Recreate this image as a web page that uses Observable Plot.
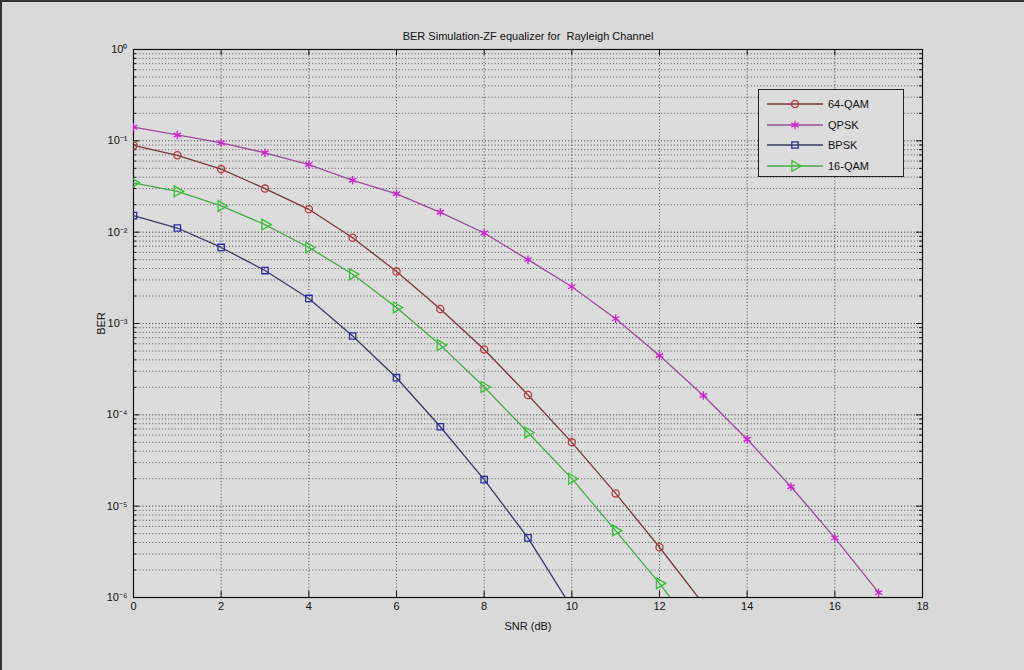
<!DOCTYPE html>
<html>
<head>
<meta charset="utf-8">
<script src="https://cdn.jsdelivr.net/npm/d3@7"></script>
<script src="https://cdn.jsdelivr.net/npm/@observablehq/plot@0.6"></script>
<style>
  html, body { margin: 0; padding: 0; background: #d9d9d9; }
  #wrap { position: relative; width: 1024px; height: 670px; overflow: hidden;
          border-top: 2px solid #333; border-left: 2px solid #333; box-sizing: border-box; }
  #chart { position: absolute; left: -2px; top: -2px; }
  #legend { position: absolute; left: 756px; top: 87px; width: 146px; height: 88px;
            border: 1.2px solid #222; background: #dcdcdc; box-sizing: border-box;
            font-family: "Liberation Sans", Arial, sans-serif; font-size: 11px; color: #111;
            padding-top: 4px; }
  #legend .row { display: flex; align-items: center; height: 20.5px; }
  #legend svg { margin-left: 8px; margin-right: 5px; }
</style>
</head>
<body>
<div id="wrap"><div id="chart"></div><div id="legend"></div></div>
<script>
// ---- data ----
const seriesNames = ["64-QAM", "QPSK", "BPSK", "16-QAM"];
const snr64qam = [0, 1, 2, 3, 4, 5, 6, 7, 8, 9, 10, 11, 12, 13];
const ber64qam = [0.089, 0.0695, 0.049, 0.030, 0.0178, 0.0087, 0.0037, 0.00144, 5.2e-4, 1.65e-4, 5.0e-5, 1.38e-5, 3.55e-6, 8.5e-7];
const snrQpsk = [0, 1, 2, 3, 4, 5, 6, 7, 8, 9, 10, 11, 12, 13, 14, 15, 16, 17];
const berQpsk = [0.141, 0.116, 0.095, 0.074, 0.055, 0.037, 0.0263, 0.0165, 0.0098, 0.0050, 0.00253, 0.00113, 4.46e-4, 1.63e-4, 5.4e-5, 1.63e-5, 4.5e-6, 1.13e-6];
const snrBpsk = [0, 1, 2, 3, 4, 5, 6, 7, 8, 9, 10];
const berBpsk = [0.0152, 0.0111, 0.0068, 0.0038, 0.00188, 7.3e-4, 2.55e-4, 7.4e-5, 1.95e-5, 4.5e-6, 7.7e-7];
const snr16qam = [0, 1, 2, 3, 4, 5, 6, 7, 8, 9, 10, 11, 12, 13];
const ber16qam = [0.0347, 0.028, 0.0194, 0.0121, 0.0068, 0.00346, 0.0015, 5.8e-4, 2.02e-4, 6.4e-5, 2.0e-5, 5.4e-6, 1.43e-6, 3.3e-7];

const xTicks = [0, 2, 4, 6, 8, 10, 12, 14, 16, 18];
const yMajorTicks = [1e-6, 1e-5, 1e-4, 1e-3, 1e-2, 1e-1, 1];
const yMinorTicks = [];
for (let e = -6; e < 0; e++) for (let m = 2; m <= 9; m++) yMinorTicks.push(m * Math.pow(10, e));

const titleText = "BER Simulation-ZF equalizer for  Rayleigh Channel";
const xLabel = "SNR (dB)";
const yLabel = "BER";

// ---- styles ----
const styles = {
  "64-QAM": {line: "#7a3838", marker: "#b83a3a", symbol: "circle", r: 3.6, rotate: 0},
  "QPSK":   {line: "#9c4c9c", marker: "#d21fd2", symbol: "asterisk", r: 4, rotate: 0},
  "BPSK":   {line: "#3a3a64", marker: "#2a2aa4", symbol: "square", r: 3.6, rotate: 0},
  "16-QAM": {line: "#44ac44", marker: "#33c033", symbol: "triangle", r: 4, rotate: 90}
};

const rows = [];
[[snr64qam, ber64qam], [snrQpsk, berQpsk], [snrBpsk, berBpsk], [snr16qam, ber16qam]].forEach(([xs, ys], i) => {
  xs.forEach((x, j) => rows.push({series: seriesNames[i], snr: x, ber: ys[j]}));
});

const W = 1024, H = 670, mL = 133, mR = 102, mT = 49, mB = 73;
const fw = W - mL - mR, fh = H - mT - mB;
const sup = {"0":"⁰","1":"¹","2":"²","3":"³","4":"⁴","5":"⁵","6":"⁶","7":"⁷","8":"⁸","9":"⁹","-":"⁻"};
const fmtPow = d => "10" + String(Math.round(Math.log10(d))).split("").map(c => sup[c]).join("");

const gridStyle = {stroke: "#222", strokeWidth: 1, strokeDasharray: "1,2.2", strokeOpacity: 0.8};

const marks = [
  Plot.frame({fill: "#dcdcdc"}),
  Plot.ruleY(yMinorTicks, {y: d => d, ...gridStyle, strokeOpacity: 0.7}),
  Plot.ruleY(yMajorTicks, {y: d => d, ...gridStyle, strokeOpacity: 0.95}),
  Plot.ruleX(xTicks, {x: d => d, ...gridStyle}),
  // inward ticks
  Plot.tickX(xTicks, {x: d => d, insetTop: fh - 6, stroke: "#111"}),
  Plot.tickX(xTicks, {x: d => d, insetBottom: fh - 6, stroke: "#111"}),
  Plot.tickY(yMajorTicks, {y: d => d, insetRight: fw - 6, stroke: "#111"}),
  Plot.tickY(yMajorTicks, {y: d => d, insetLeft: fw - 6, stroke: "#111"}),
  Plot.tickY(yMinorTicks, {y: d => d, insetRight: fw - 3, stroke: "#111"}),
  Plot.tickY(yMinorTicks, {y: d => d, insetLeft: fw - 3, stroke: "#111"}),
  Plot.frame({stroke: "#111", strokeWidth: 1.2}),
  Plot.axisX(xTicks, {anchor: "bottom", tickSize: 0, tickPadding: 5, fontSize: 11,
    label: xLabel, labelAnchor: "center", labelOffset: 32, labelArrow: "none"}),
  Plot.axisY(yMajorTicks, {anchor: "left", tickSize: 0, tickPadding: 6, fontSize: 11,
    tickFormat: fmtPow, label: yLabel, labelAnchor: "center", labelOffset: 36, labelArrow: "none"}),
  Plot.text([titleText], {frameAnchor: "top", dy: -13, fontSize: 11, fill: "#111", lineAnchor: "middle"})
];

seriesNames.forEach(name => {
  const s = styles[name];
  const data = rows.filter(d => d.series === name);
  marks.push(Plot.line(data, {x: "snr", y: "ber", stroke: s.line, strokeWidth: 1.3, clip: true}));
  marks.push(Plot.dot(data, {x: "snr", y: "ber", symbol: s.symbol, r: s.r, rotate: s.rotate,
    stroke: s.marker, strokeWidth: 1.3, fill: "none", clip: true}));
});

const chart = Plot.plot({
  width: W, height: H,
  marginLeft: mL, marginRight: mR, marginTop: mT, marginBottom: mB,
  style: {background: "transparent", fontFamily: "'Liberation Sans', Arial, sans-serif", fontSize: "11px", color: "#111"},
  x: {domain: [0, 18], label: null},
  y: {type: "log", domain: [1e-6, 1], label: null},
  marks
});
document.getElementById("chart").appendChild(chart);

// ---- legend ----
const legend = document.getElementById("legend");
seriesNames.forEach(name => {
  const s = styles[name];
  const row = document.createElement("div");
  row.className = "row";
  const svg = d3.create("svg").attr("width", 56).attr("height", 14);
  svg.append("line").attr("x1", 0).attr("x2", 56).attr("y1", 7).attr("y2", 7)
    .attr("stroke", s.line).attr("stroke-width", 1.3);
  const symMap = {circle: d3.symbolCircle, asterisk: d3.symbolAsterisk, square: d3.symbolSquare, triangle: d3.symbolTriangle};
  const size = Math.PI * s.r * s.r;
  svg.append("path").attr("d", d3.symbol(symMap[s.symbol], size)())
    .attr("transform", `translate(28,7) rotate(${s.rotate})`)
    .attr("fill", "none").attr("stroke", s.marker).attr("stroke-width", 1.3);
  row.appendChild(svg.node());
  const label = document.createElement("span");
  label.textContent = name;
  row.appendChild(label);
  legend.appendChild(row);
});
</script>
</body>
</html>
